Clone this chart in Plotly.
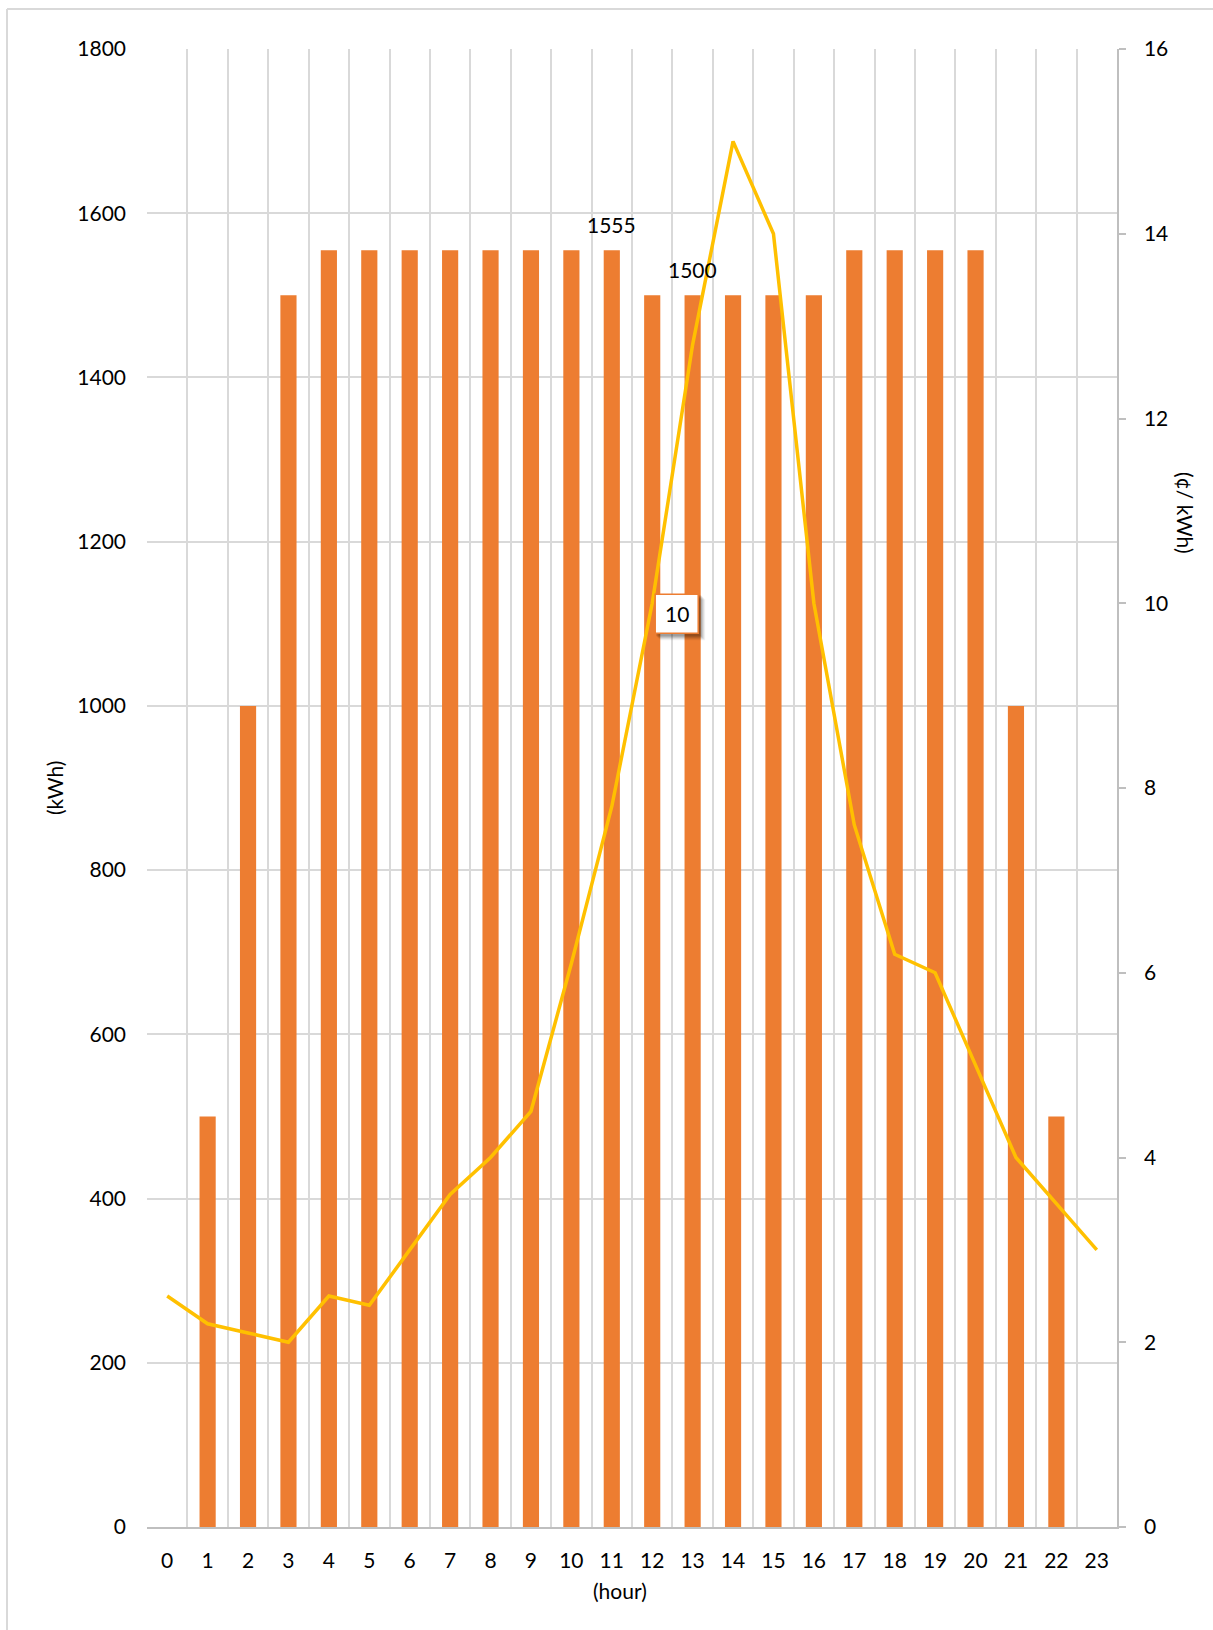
import plotly.graph_objects as go

# Hourly energy (kWh) and price (¢/kWh)
hours = [str(h) for h in range(24)]
energy_kwh = [0, 500, 1000, 1500, 1555, 1555, 1555, 1555, 1555, 1555, 1555, 1555,
              1500, 1500, 1500, 1500, 1500, 1555, 1555, 1555, 1555, 1000, 500, 0]
price_cents = [2.5, 2.2, 2.1, 2.0, 2.5, 2.4, 3.0, 3.6, 4.0, 4.5, 6.1, 7.8,
               10.0, 12.8, 15.0, 14.0, 10.0, 7.6, 6.2, 6.0, 5.0, 4.0, 3.5, 3.0]

W, H = 1213, 1630
L, R, T, B = 147, 96, 49, 103
PW, PH = W - L - R, H - T - B

FONT = "Lato"
GRID = "#D9D9D9"
AXIS = "#BFBFBF"
ORANGE = "#ED7D31"
GOLD = "#FFC000"


def px_x(x):
    return (x - L) / PW


def px_y(y):
    return (H - B - y) / PH


fig = go.Figure()

fig.add_trace(go.Bar(
    x=hours, y=energy_kwh, marker=dict(color=ORANGE, line=dict(width=0)),
    hoverinfo="skip", showlegend=False,
))

fig.add_trace(go.Scatter(
    x=hours, y=price_cents, yaxis="y2", mode="lines",
    line=dict(color=GOLD, width=3.5), hoverinfo="skip", showlegend=False,
))

annotations = []
shapes = []

# value labels above two of the bars
for i in (11, 13):
    annotations.append(dict(
        x=hours[i], y=energy_kwh[i], xref="x", yref="y", text=str(energy_kwh[i]),
        showarrow=False, yshift=26, font=dict(family=FONT, size=21, color="black"),
    ))

# boxed price label at hour 12: soft shadow, white box with orange border, text
i = 12
box = dict(x0=3, x1=46, y0=-30, y1=9)
for off, op in ((7, 0.05), (6, 0.07), (5, 0.09), (4, 0.11), (3, 0.12)):
    shapes.append(dict(
        type="rect", xref="x", yref="y2", xsizemode="pixel", ysizemode="pixel",
        xanchor=i, yanchor=price_cents[i],
        x0=box["x0"] + off - 2, x1=box["x1"] + off, y0=box["y0"] - off, y1=box["y1"] - off + 2,
        fillcolor=f"rgba(0,0,0,{op})", line=dict(width=0), layer="above",
    ))
shapes.append(dict(
    type="rect", xref="x", yref="y2", xsizemode="pixel", ysizemode="pixel",
    xanchor=i, yanchor=price_cents[i], **box,
    fillcolor="white", line=dict(color=ORANGE, width=1.5), layer="above",
))
annotations.append(dict(
    x=hours[i], y=price_cents[i], xref="x", yref="y2", text=f"{price_cents[i]:g}",
    showarrow=False, xshift=25, yshift=-10, xanchor="center", yanchor="middle",
    font=dict(family=FONT, size=21, color="black"),
))

# axis titles
title_font = dict(family=FONT, size=21, color="black")
annotations += [
    dict(x=px_x(620), y=px_y(1590), xref="paper", yref="paper", text="(hour)",
         xanchor="center", yanchor="middle", showarrow=False, font=title_font),
    dict(x=px_x(54), y=0.5, xref="paper", yref="paper", text="(kWh)", textangle=-90,
         xanchor="center", yanchor="middle", showarrow=False, font=title_font),
    dict(x=px_x(1186), y=px_y(513), xref="paper", yref="paper", text="(¢/ kWh)",
         textangle=90, xanchor="center", yanchor="middle", showarrow=False,
         font=title_font),
]

# chart-area frame (left and top edges)
shapes += [
    dict(type="line", xref="paper", yref="paper", x0=px_x(7), x1=px_x(W + 5),
         y0=px_y(9), y1=px_y(9), line=dict(color=GRID, width=2)),
    dict(type="line", xref="paper", yref="paper", x0=px_x(7), x1=px_x(7),
         y0=px_y(9), y1=px_y(H + 5), line=dict(color=GRID, width=2)),
]

fig.update_layout(
    width=W, height=H,
    margin=dict(l=L, r=R, t=T, b=B, autoexpand=False),
    paper_bgcolor="white", plot_bgcolor="white",
    font=dict(family=FONT, size=21, color="black"),
    bargap=0.6,
    xaxis=dict(
        type="category", tickson="boundaries", showgrid=True, gridcolor=GRID,
        gridwidth=1.5, ticks="", showline=True, linecolor=AXIS, linewidth=2,
        ticklabelstandoff=14, tickfont=dict(family=FONT, size=21, color="black"),
        range=[-0.5, 23.5], fixedrange=True,
    ),
    yaxis=dict(
        range=[0, 1800], dtick=200, tick0=0, showgrid=True, gridcolor=GRID,
        gridwidth=1.5, zeroline=False, showline=False, ticks="",
        ticklabelstandoff=20, tickfont=dict(family=FONT, size=21, color="black"),
    ),
    yaxis2=dict(
        overlaying="y", side="right", range=[0, 16], dtick=2, tick0=0,
        showgrid=False, zeroline=False, showline=True, linecolor=AXIS, linewidth=1.5,
        ticks="outside", ticklen=7, tickcolor=AXIS, tickwidth=1.5,
        ticklabelstandoff=14, tickfont=dict(family=FONT, size=21, color="black"),
    ),
    annotations=annotations,
    shapes=shapes,
)

fig.write_html("out.html")
